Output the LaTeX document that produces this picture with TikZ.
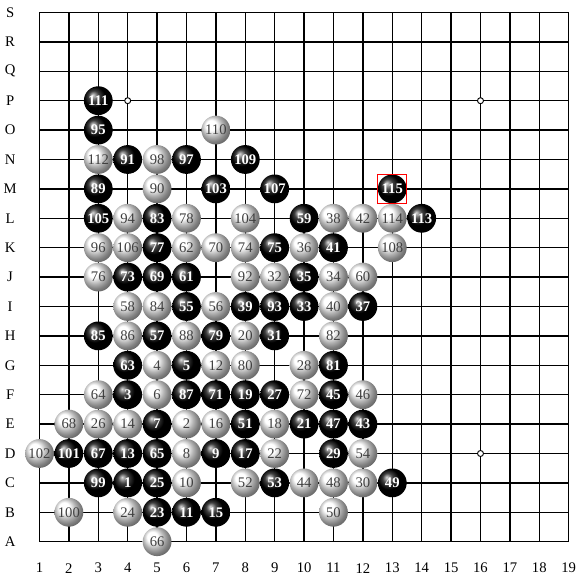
\documentclass[tikz,border=0pt]{standalone}
\usepackage{fontspec}
\setmainfont{Liberation Serif}
\usepackage{tikz}
\usetikzlibrary{arrows.meta,positioning}

\tikzset{
    bstone/.style={circle, inner sep=0pt, minimum size=21.6pt, ball color=black, text=white, font=\fontsize{11}{11}\selectfont\bfseries},
    wstone/.style={circle, inner sep=0pt, minimum size=21.6pt, ball color=white, text=black!75, font=\fontsize{11}{11}\selectfont},
    hoshi/.style={circle, draw=black, fill=white, inner sep=0pt, minimum size=4.5pt, line width=0.7pt},
    coordlabel/.style={font=\fontsize{11}{11}\selectfont, text=black}
}

\begin{document}
\begin{tikzpicture}[x=22.05pt, y=22.05pt, >=Stealth]
    \useasboundingbox (-0.343,-0.439) rectangle (19.384,19.425);
    % 棋盘
    \fill[white] (-0.343,-0.439) rectangle (19.384,19.425);
    \foreach \i in {1,...,19} {
        \draw[line width=1pt] (\i,1) -- (\i,19);
        \draw[line width=1pt] (1,\i) -- (19,\i);
    }

    % 星位
    \foreach \c/\r/\k in {4/16/a, 16/16/b, 16/4/c}
        \node[hoshi] (star\k) at (\c,\r) {};

    % 坐标
    \foreach \n in {1,...,19}
        \node[coordlabel] (col\n) at (\n,0.1) {\n};
    \foreach \l [count=\r] in {A,B,C,D,E,F,G,H,I,J,K,L,M,N,O,P,Q,R,S}
        \node[coordlabel] (row\l) at (0,\r) {\l};

    % 黑子
    \foreach \n/\c/\r in {111/3/16, 95/3/15, 91/4/14, 97/6/14, 109/8/14, 89/3/13, 103/7/13, 107/9/13, 115/13/13,
        105/3/12, 83/5/12, 59/10/12, 113/14/12, 77/5/11, 75/9/11, 41/11/11, 73/4/10, 69/5/10, 61/6/10, 35/10/10,
        55/6/9, 39/8/9, 93/9/9, 33/10/9, 37/12/9, 85/3/8, 57/5/8, 79/7/8, 31/9/8, 63/4/7, 5/6/7, 81/11/7,
        3/4/6, 87/6/6, 71/7/6, 19/8/6, 27/9/6, 45/11/6, 7/5/5, 51/8/5, 21/10/5, 47/11/5, 43/12/5,
        101/2/4, 67/3/4, 13/4/4, 65/5/4, 9/7/4, 17/8/4, 29/11/4, 99/3/3, 1/4/3, 25/5/3, 53/9/3, 49/13/3,
        23/5/2, 11/6/2, 15/7/2}
        \node[bstone] (s\n) at (\c,\r) {\n};

    % 白子
    \foreach \n/\c/\r in {110/7/15, 112/3/14, 98/5/14, 90/5/13, 94/4/12, 78/6/12, 104/8/12, 38/11/12, 42/12/12, 114/13/12,
        96/3/11, 106/4/11, 62/6/11, 70/7/11, 74/8/11, 36/10/11, 108/13/11, 76/3/10, 92/8/10, 32/9/10, 34/11/10, 60/12/10,
        58/4/9, 84/5/9, 56/7/9, 40/11/9, 86/4/8, 88/6/8, 20/8/8, 82/11/8, 4/5/7, 12/7/7, 80/8/7, 28/10/7,
        64/3/6, 6/5/6, 72/10/6, 46/12/6, 68/2/5, 26/3/5, 14/4/5, 2/6/5, 16/7/5, 18/9/5,
        102/1/4, 8/6/4, 22/9/4, 54/12/4, 10/6/3, 52/8/3, 44/10/3, 48/11/3, 30/12/3,
        100/2/2, 24/4/2, 50/11/2, 66/5/1}
        \node[wstone] (s\n) at (\c,\r) {\n};

    % 最后一手
    \node[draw=red, line width=1pt, minimum size=21.8pt, inner sep=0pt] (last) at (s115) {};
\end{tikzpicture}
\end{document}
